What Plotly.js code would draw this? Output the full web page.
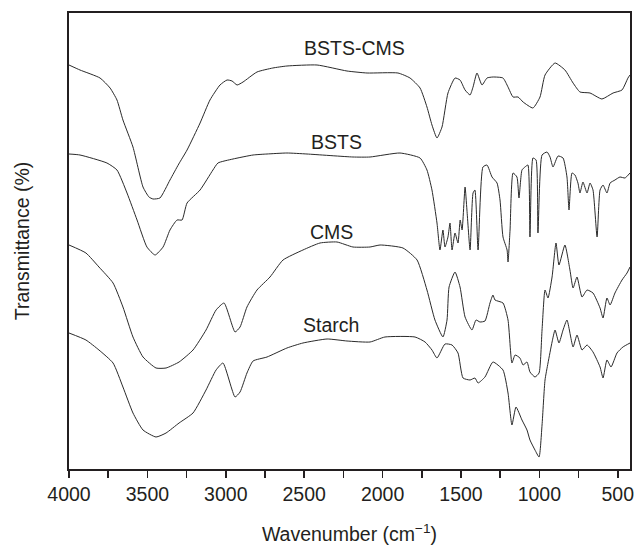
<!DOCTYPE html>
<html>
<head>
<meta charset="utf-8">
<script src="https://cdn.plot.ly/plotly-3.0.1.min.js"></script>
<style>html,body{margin:0;padding:0;background:#fff;}#chart{width:635px;height:545px;}</style>
</head>
<body>
<div id="chart"></div>
<script>
// Series names (as labelled on the chart)
const seriesNames = ["BSTS-CMS", "BSTS", "CMS", "Starch"];

// Wavenumbers (cm^-1) and transmittance (arbitrary, offset spectra)
const bstsCmsWn = [4000,3930,3802,3738,3694,3656,3592,3528,3490,3464,3420,3356,3300,3247,3164,3101,3037,2992,2960,2928,2890,2801,2700,2610,2418,2227,2099,1902,1825,1761,1717,1685,1653,1621,1583,1538,1506,1474,1442,1423,1398,1366,1334,1296,1232,1200,1168,1136,1104,1041,996,964,900,837,785,741,677,601,530,473,435,422];
const bstsCmsT  = [404,399,391,381,369,349,322,282,272,270,271,289,305,319,346,369,384,389,388,384,387,397,401,403,404,398,396,396,391,381,362,344,331,342,376,391,389,379,374,382,396,384,391,392,391,382,372,372,367,361,372,394,406,399,386,377,376,370,376,379,391,394];

const bstsWn = [4000,3930,3758,3694,3630,3566,3503,3451,3400,3356,3311,3279,3247,3164,3082,3050,2954,2826,2737,2610,2482,2189,2080,1889,1761,1717,1685,1653,1634,1615,1602,1583,1570,1557,1538,1519,1505,1493,1474,1462,1442,1423,1411,1391,1360,1334,1302,1270,1251,1232,1206,1200,1187,1168,1143,1130,1111,1092,1073,1060,1041,1021,1009,983,951,932,913,881,849,824,811,792,773,754,741,722,696,677,658,632,613,594,569,549,518,486,454,422];
const bstsT  = [315,314,306,299,276,249,222,214,222,239,249,249,266,279,299,306,310,314,315,316,315,312,312,316,311,299,279,246,219,239,222,232,246,219,236,226,249,239,282,259,219,276,279,219,302,304,292,286,269,232,219,207,239,296,292,271,299,302,304,232,311,309,236,314,317,312,302,313,311,292,259,296,294,286,276,287,276,286,279,232,279,284,276,286,289,292,291,296];

const cmsWn = [4000,3892,3809,3719,3656,3592,3528,3445,3381,3298,3209,3126,3062,3011,2941,2909,2865,2801,2718,2635,2508,2399,2291,2189,2080,2016,1870,1780,1717,1666,1615,1589,1576,1538,1506,1474,1430,1404,1379,1347,1315,1296,1283,1232,1200,1175,1155,1124,1104,1079,1060,1028,1002,983,964,945,919,894,875,837,805,785,760,728,696,658,613,594,569,549,518,473,441,422];
const cmsT  = [224,216,202,186,162,132,112,101,101,107,119,139,159,166,137,142,162,179,192,209,219,226,227,222,222,224,221,209,179,149,132,149,182,197,182,152,139,149,147,148,166,174,169,166,149,106,114,111,104,107,97,92,96,139,179,171,192,226,204,224,199,181,192,172,179,176,161,151,171,164,176,189,196,202];

const starchWn = [4000,3892,3809,3719,3656,3592,3528,3445,3381,3298,3209,3126,3062,3018,2941,2909,2865,2826,2737,2610,2508,2354,2227,2080,1985,1793,1729,1685,1653,1602,1557,1519,1487,1442,1411,1391,1347,1296,1232,1200,1175,1149,1111,1079,1060,1028,1002,983,964,945,919,900,875,849,824,785,760,728,696,658,613,594,569,543,505,467,422];
const starchT  = [136,129,119,106,82,56,39,32,36,46,56,79,99,106,72,77,96,108,112,121,126,130,128,127,132,132,127,119,111,125,124,116,91,89,91,86,92,107,99,76,44,62,49,39,29,19,12,44,89,106,127,139,126,139,149,122,134,119,124,117,102,91,109,102,116,122,126];

// Axis tick values and labels
const xTickVals = [4000,3500,3000,2500,2000,1500,1000,500];
const xTickText = ["4000","3500","3000","2500","2000","1500","1000","500"];

const ink = "#231f20";
const font = "Liberation Sans, Arial, Helvetica, sans-serif";

const allWn = [bstsCmsWn, bstsWn, cmsWn, starchWn];
const allT = [bstsCmsT, bstsT, cmsT, starchT];

const traces = allWn.map((wn, i) => ({
  x: wn, y: allT[i], type: "scatter", mode: "lines", name: seriesNames[i],
  line: {color: "#2a2a2a", width: 1, shape: "spline", smoothing: 0.5}, hoverinfo: "x+y+name"
}));

// label positions for the curve names
const labelWn = [2182, 2297, 2323, 2329];
const labelT = [421, 327, 237, 144];

const annotations = seriesNames.map((n, i) => ({
  x: labelWn[i], y: labelT[i], xref: "x", yref: "y", text: n, showarrow: false,
  font: {family: font, size: 19.5, color: ink}, xanchor: "center", yanchor: "middle"
}));

const layout = {
  width: 635, height: 545,
  margin: {l: 69, r: 5, t: 13, b: 76},
  paper_bgcolor: "#fff", plot_bgcolor: "#fff",
  showlegend: false,
  font: {family: font, size: 19.5, color: ink},
  xaxis: {
    range: [4000, 422], showgrid: false, zeroline: false,
    showline: true, mirror: true, linecolor: ink, linewidth: 2,
    tickmode: "array", tickvals: xTickVals, ticktext: xTickText,
    ticks: "outside", ticklen: 7, tickwidth: 1.5, tickcolor: ink,
    minor: {tickmode: "linear", tick0: 0, dtick: 250, ticks: "outside", ticklen: 7, tickwidth: 1.5, tickcolor: ink},
    tickfont: {family: font, size: 19.5, color: ink},
    title: {text: "Wavenumber (cm<sup>\u22121</sup>)", font: {family: font, size: 19.5, color: ink}, standoff: 24}
  },
  yaxis: {
    range: [0, 456], showgrid: false, zeroline: false,
    showline: true, mirror: true, linecolor: ink, linewidth: 2,
    showticklabels: false, ticks: "",
    title: {text: "Transmittance (%)", font: {family: font, size: 19.5, color: ink}, standoff: 32}
  },
  annotations: annotations
};

Plotly.newPlot("chart", traces, layout, {displayModeBar: false, staticPlot: true});
</script>
</body>
</html>
